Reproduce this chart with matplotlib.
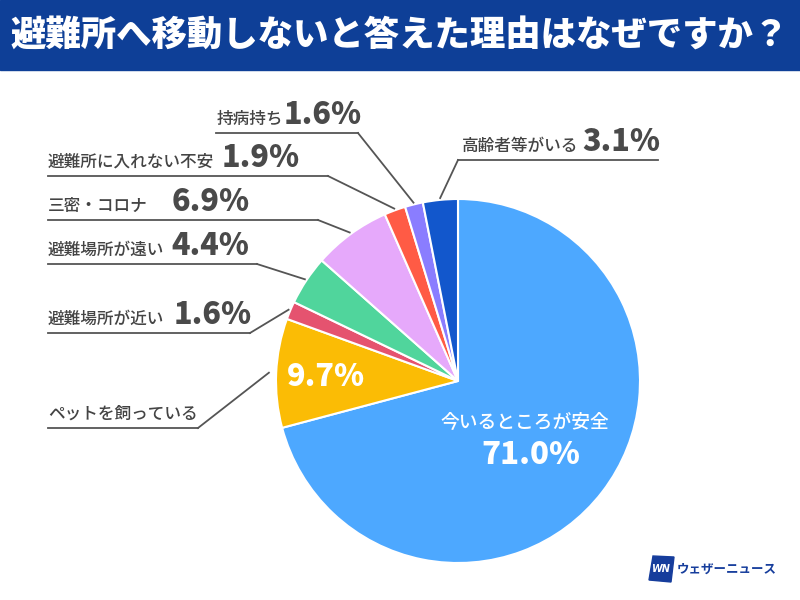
import numpy as np
import matplotlib.pyplot as plt
from matplotlib.patches import Rectangle, Polygon

plt.rcParams['font.family'] = ['Noto Sans CJK JP', 'DejaVu Sans']

# data, clockwise from the top
labels = ['今いるところが安全', 'ペットを飼っている', '避難場所が近い', '避難場所が遠い',
          '三密・コロナ', '避難所に入れない不安', '持病持ち', '高齢者等がいる']
values = [71.0, 9.7, 1.6, 4.4, 6.9, 1.9, 1.6, 3.1]
colors = ['#4da8ff', '#fbbc05', '#e5536f', '#50d59c', '#e6a9fb', '#ff5b45', '#8a7dff', '#1257cc']

title = '避難所へ移動しないと答えた理由はなぜですか？'

# outside label layout (image pixels): underline y, underline x0, x1, text x, pct x, elbow end
outside = {
    2: dict(uy=333, x0=48, x1=250, tx=48, px=174, elbow=250),
    3: dict(uy=264, x0=48, x1=257, tx=48, px=171, elbow=257),
    4: dict(uy=220, x0=48, x1=318, tx=48, px=172, elbow=318),
    5: dict(uy=176, x0=48, x1=328, tx=48, px=222, elbow=328),
    6: dict(uy=133, x0=216, x1=358, tx=217, px=284, elbow=358),
    7: dict(uy=160, x0=458, x1=658, tx=462, px=582, elbow=458),
}

fig = plt.figure(figsize=(8, 6), dpi=100)
ax = fig.add_axes([0, 0, 1, 1])

# title bar
ax.add_patch(Rectangle((0, 0), 800, 70, color='#0e3f97', zorder=1))
ax.text(400, 36, title, ha='center', va='center', color='white',
        fontsize=25.5, fontweight=900, zorder=2)

cx, cy, r = 458, 381, 182
# y axis is inverted, so counterclock in data looks clockwise
wedges, _ = ax.pie(values, colors=colors, startangle=-90, counterclock=True,
                   center=(cx, cy), radius=r, frame=True,
                   wedgeprops=dict(edgecolor='white', linewidth=1.5))
ax.set_xlim(0, 800)
ax.set_ylim(600, 0)
ax.set_aspect('equal')
ax.axis('off')

line_c = '#555555'
txt_c = '#444444'
pct_c = '#4a4a4a'
for i, lay in outside.items():
    w = wedges[i]
    ang = np.deg2rad((w.theta1 + w.theta2) / 2)
    ex, ey = cx + r * 1.01 * np.cos(ang), cy + r * 1.01 * np.sin(ang)
    ax.plot([lay['x0'], lay['x1']], [lay['uy'], lay['uy']], color=line_c, lw=1.3)
    ax.plot([lay['elbow'], ex], [lay['uy'], ey], color=line_c, lw=1.3)
    ax.text(lay['tx'], lay['uy'] - 5, labels[i], ha='left', va='bottom',
            fontsize=12, fontweight='medium', color=txt_c)
    ax.text(lay['px'], lay['uy'] - 3, f'{values[i]:.1f}%', ha='left', va='bottom',
            fontsize=22, fontweight=900, color=pct_c)

# pet label: text only outside, value inside
w = wedges[1]
ang = np.deg2rad((w.theta1 + w.theta2) / 2)
ex, ey = cx + r * 1.04 * np.cos(ang), cy + r * 1.04 * np.sin(ang)
ax.plot([48, 198], [428, 428], color=line_c, lw=1.3)
ax.plot([198, ex], [428, ey], color=line_c, lw=1.3)
ax.text(48, 423, labels[1], ha='left', va='bottom', fontsize=12,
        fontweight='medium', color=txt_c)
ax.text(326, 377, f'{values[1]:.1f}%', ha='center', va='center',
        fontsize=22, fontweight=900, color='white')

# biggest slice
ax.text(525, 422, labels[0], ha='center', va='center', fontsize=13.5,
        fontweight='medium', color='white')
ax.text(531, 455, f'{values[0]:.1f}%', ha='center', va='center',
        fontsize=22.5, fontweight=900, color='white')

# logo
ax.add_patch(Polygon([(653, 556), (674, 557), (671, 582), (649, 580)],
                     closed=True, color='#163d9c'))
ax.text(661, 569, 'WN', ha='center', va='center', color='white', fontsize=7,
        fontweight='bold', style='italic', family='DejaVu Sans')
ax.text(677, 569, 'ウェザーニュース', ha='left', va='center', color='#163d9c',
        fontsize=9, fontweight='bold')

fig.savefig('out.png', dpi=100)
